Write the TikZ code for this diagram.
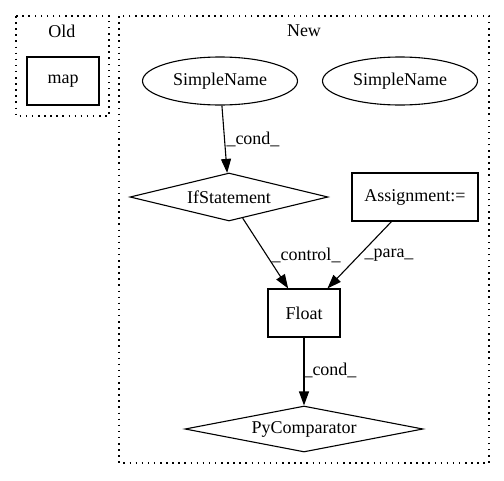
\documentclass[tikz,border=0pt]{standalone}
\usepackage{fontspec}
\setmainfont{Liberation Serif}
\usetikzlibrary{shapes.geometric,arrows.meta}
\begin{document}
\begin{tikzpicture}[x=1pt,y=-1pt,line width=1.1pt,
  		font=\fontsize{18}{21}\selectfont,
  		cluster/.style={draw,dash pattern=on 1.5pt off 4.6pt},
  		boxnode/.style={draw,rectangle,inner sep=0pt},
  		ellnode/.style={draw,ellipse,inner sep=0pt,minimum width=155pt,minimum height=48pt},
  		dianode/.style={draw,diamond,inner sep=0pt},
  		edge/.style={-{Triangle[length=14pt,width=10pt]}}]
  		\useasboundingbox (0,0) rectangle (504,480);
  		% clusters
  		\draw[cluster] (16,16) rectangle (109,116);
  		\node (old) at (62,31) {Old};
  		\draw[cluster] (119,16) rectangle (489,463);
  		\node (new) at (304,31) {New};
  		% nodes
  		\node[boxnode,minimum width=72pt,minimum height=48pt] (map) at (63,81) {map};
  		\node[ellnode] (sn1) at (220,81) {SimpleName};
  		\node[ellnode] (sn2) at (400,81) {SimpleName};
  		\node[dianode,aspect=4.1,minimum width=198pt,minimum height=48pt] (ifs) at (229,197) {IfStatement};
  		\node[boxnode,minimum width=126pt,minimum height=48pt] (asg) at (415,197) {Assignment:=};
  		\node[boxnode,minimum width=72pt,minimum height=48pt] (flt) at (304,313) {Float};
  		\node[dianode,aspect=5.2,minimum width=238pt,minimum height=46pt] (pyc) at (304,429) {PyComparator};
  		% edges
  		\draw[edge] (sn1) -- (ifs);
  		\draw[edge] (ifs) -- (flt);
  		\draw[edge] (asg) -- (flt);
  		\draw[edge] (flt) -- (pyc);
  		% labels
  		\node (l1) at (253,139) {\_cond\_};
  		\node (l2) at (306,255) {\_control\_};
  		\node (l3) at (389,255) {\_para\_};
  		\node (l4) at (330,370) {\_cond\_};
\end{tikzpicture}
\end{document}
